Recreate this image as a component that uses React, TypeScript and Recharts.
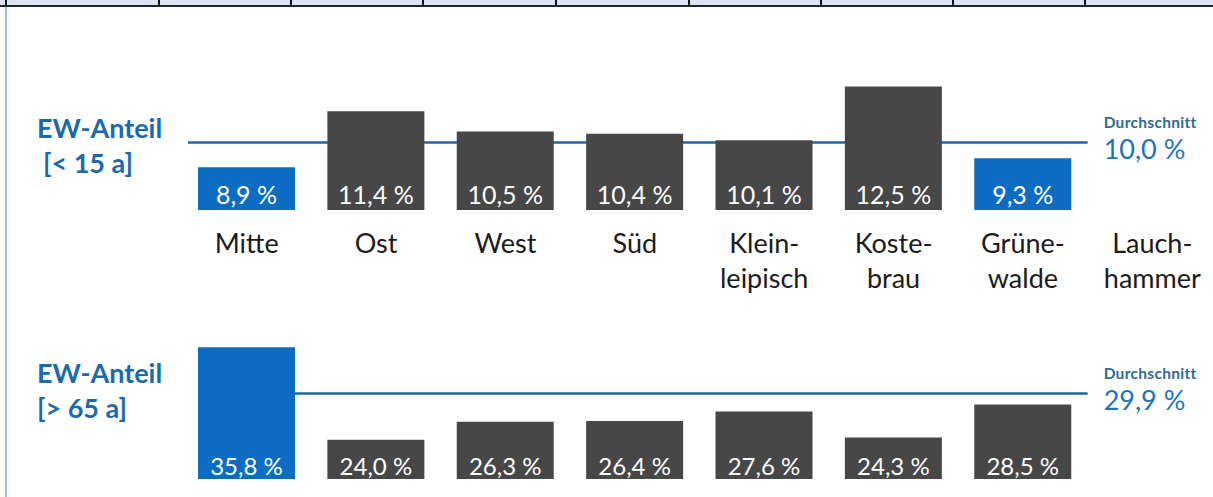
import React from 'react';
import { BarChart, Bar, XAxis, YAxis, ReferenceLine, LabelList, Cell } from 'recharts';

// Ortsteile (Zeilenumbruch nach dem Trennstrich wie im Original)
const districts = ['Mitte', 'Ost', 'West', 'Süd', 'Klein-\nleipisch', 'Koste-\nbrau', 'Grüne-\nwalde', 'Lauch-\nhammer'];
const shareUnder15 = [8.9, 11.4, 10.5, 10.4, 10.1, 12.5, 9.3, null];
const shareOver65 = [35.8, 24.0, 26.3, 26.4, 27.6, 24.3, 28.5, null];
const avgUnder15 = 10.0;
const avgOver65 = 29.9;

// Trennlinien der Tabellenzeile oberhalb der Grafik
const tableStops = [5, 158, 290, 422, 555, 688, 820, 952, 1084];

const BLUE = '#0b6cc2';
const DARK = '#474747';
const LINE = '#2167a4';
const TEXT_BLUE = '#1a6aae';
const FONT = 'Lato, "Open Sans", sans-serif';

const pct = (v: number | null | undefined) => (v == null ? '' : `${v.toFixed(1).replace('.', ',')} %`);

const under15Rows = districts.map((name, i) => ({ name, value: shareUnder15[i] }));
const over65Rows = districts.map((name, i) => ({ name, value: shareOver65[i] }));

function DistrictTick(props: any) {
  const { x, y, payload } = props;
  const lines = String(payload.value).split('\n');
  return (
    <text x={x} y={y} textAnchor="middle" fontFamily={FONT} fontSize={27} fill="#1b1b1b">
      {lines.map((line, i) => (
        <tspan key={i} x={x} dy={i === 0 ? 43 : 35}>{line}</tspan>
      ))}
    </text>
  );
}

function AvgLabel({ viewBox, avg }: any) {
  const x = viewBox.x + viewBox.width + 16;
  const y = viewBox.y;
  return (
    <g fontFamily={FONT}>
      <text x={x} y={y - 15} fontSize={15.5} fontWeight={700} letterSpacing={0.3} fill="#2f6b96">Durchschnitt</text>
      <text x={x} y={y + 16} fontSize={27} fill="#1c73b8">{pct(avg)}</text>
    </g>
  );
}

interface ShareChartProps {
  rows: { name: string; value: number | null }[];
  avg: number;
  highlight: (v: number) => boolean;
  domain: [number, number];
  height: number;
  margin: { top: number; right: number; left: number; bottom: number };
  showAxis: boolean;
  lineInset: number;
  labelOffset: number;
  labelSize: number;
  layer: 'back' | 'front';
}

function ShareChart({ rows, avg, highlight, domain, height, margin, showAxis, lineInset, labelOffset, labelSize, layer }: ShareChartProps) {
  const back = layer === 'back';
  return (
    <BarChart width={1240} height={height} data={rows} margin={margin}>
      <XAxis dataKey="name" hide={!showAxis} height={90} interval={0}
        tick={back ? <DistrictTick /> : false} tickLine={false} axisLine={false} tickSize={0} tickMargin={0} />
      <YAxis hide domain={domain} allowDataOverflow />
      {back && (
        <ReferenceLine position="start" ifOverflow="visible"
          segment={[{ x: rows[0].name, y: avg }, { x: rows[rows.length - 1].name, y: avg }]}
          shape={(p: any) => (
            <line x1={p.x1 + lineInset} y1={p.y1} x2={p.x2} y2={p.y2} stroke={LINE} strokeWidth={2.5} />
          )}
          label={(p: any) => <AvgLabel {...p} avg={avg} />} />
      )}
      <Bar dataKey="value" barSize={97} isAnimationActive={false} fill="none">
        {rows.map((r) => (
          <Cell key={r.name} fill={back ? 'none' : r.value != null && highlight(r.value) ? BLUE : DARK} />
        ))}
        {!back && (
          <LabelList dataKey="value" position="insideBottom" offset={labelOffset} formatter={pct as any}
            fill="#ffffff" fontSize={labelSize} fontFamily={FONT} />
        )}
      </Bar>
    </BarChart>
  );
}

export default function App() {
  const top = {
    rows: under15Rows, avg: avgUnder15, highlight: (v: number) => v < avgUnder15,
    domain: [7, 13.5] as [number, number], height: 300,
    margin: { top: 64, right: 23, left: 182, bottom: 0 },
    showAxis: true, lineInset: 6, labelOffset: 6, labelSize: 25,
  };
  const bottom = {
    rows: over65Rows, avg: avgOver65, highlight: (v: number) => v > avgOver65,
    domain: [19, 38] as [number, number], height: 197,
    margin: { top: 30, right: 23, left: 182, bottom: 18 },
    showAxis: false, lineInset: 64, labelOffset: 4, labelSize: 24,
  };
  return (
    <div style={{ position: 'fixed', left: 0, top: 0, width: 1213, height: 497, overflow: 'hidden', background: '#fff', fontFamily: FONT }}>
      {/* Tabellenzeile oben */}
      <div style={{ position: 'absolute', left: 0, top: 0, width: 1213, height: 5, background: '#dbe4ef', borderBottom: '2px solid #1c2b3c' }} />
      {tableStops.map((x) => (
        <div key={x} style={{ position: 'absolute', left: x, top: 0, width: 2, height: 6, background: '#111' }} />
      ))}
      <div style={{ position: 'absolute', left: 5, top: 7, width: 2, height: 490, background: '#8fbfe8' }} />

      <svg width={1213} height={497} style={{ position: 'absolute', left: 0, top: 0 }}>
        <g fontFamily={FONT} fontWeight={700} fill={TEXT_BLUE} fontSize={27}>
          <text x={37} y={138}>EW-Anteil</text>
          <text x={43} y={173}>[&lt; 15 a]</text>
          <text x={37} y={383}>EW-Anteil</text>
          <text x={37} y={418}>[&gt; 65 a]</text>
        </g>
      </svg>

      {/* hinten: Achse und Durchschnittslinie, vorne: Balken */}
      <div style={{ position: 'absolute', left: 0, top: 0 }}>
        <ShareChart {...top} layer="back" />
      </div>
      <div style={{ position: 'absolute', left: 0, top: 0 }}>
        <ShareChart {...top} layer="front" />
      </div>
      <div style={{ position: 'absolute', left: 0, top: 300 }}>
        <ShareChart {...bottom} layer="back" />
      </div>
      <div style={{ position: 'absolute', left: 0, top: 300 }}>
        <ShareChart {...bottom} layer="front" />
      </div>
    </div>
  );
}
